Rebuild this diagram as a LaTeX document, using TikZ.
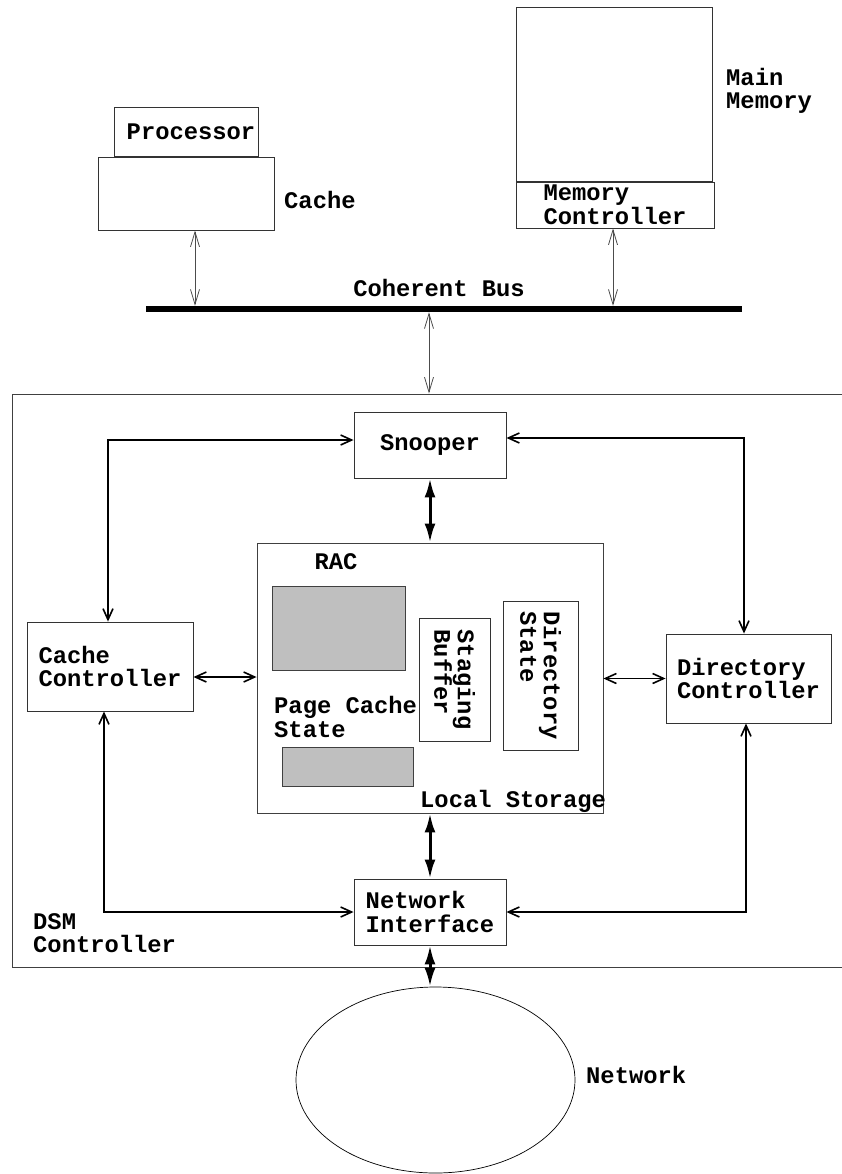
\documentclass[tikz,border=0pt]{standalone}
\usepackage{fontspec}
\newfontfamily\monofam{Liberation Mono}
\usetikzlibrary{positioning,arrows.meta,shapes.geometric}
\newcommand\dsmfont{\monofam\bfseries\fontsize{23.8}{23.5}\selectfont}

\begin{document}
\begin{tikzpicture}[x=1pt,y=-1pt]
  \useasboundingbox (0,0) rectangle (841,1174);

  \tikzstyle{unit} = [
    % The shape:
    rectangle, inner sep=0pt,
    % The border:
    draw=black!80, line width=0.9pt,
    % Font:
    font=\dsmfont, align=left
  ];
  \tikzstyle{filledBlock} = [
    rectangle, inner sep=0pt,
    draw=black!75, line width=0.9pt,
    fill=black!25
  ];
  \tikzstyle{annotation} = [
    % Just text!
    font=\dsmfont, align=left, inner sep=0pt
  ];
  \tikzstyle{busLink} = [
    draw=black!70, line width=0.8pt,
    {Straight Barb[length=15pt,width=9pt]}-{Straight Barb[length=15pt,width=9pt]}
  ];
  \tikzstyle{ctrlLink} = [
    draw=black, line width=1.6pt,
    {Straight Barb[length=11pt,width=10pt]}-{Straight Barb[length=11pt,width=10pt]}
  ];
  \tikzstyle{dataLink} = [
    draw=black, line width=3pt,
    {Latex[length=19pt,width=11pt]}-{Latex[length=19pt,width=11pt]}
  ];

  % node on the bus
  \node [unit, minimum width=144pt, minimum height=49pt] (processor) at (186,131.5) {\hspace*{10pt}Processor};
  \node [unit, minimum width=176pt, minimum height=73pt] (cache) at (186,193.5) {};
  \node [annotation, anchor=west] (cacheLabel) at (284,200) {Cache};

  \node [unit, minimum width=196pt, minimum height=174pt] (mainMemory) at (614,94) {};
  \node [unit, minimum width=198pt, minimum height=46pt] (memController) at (615,205) {Memory\\Controller};
  \node [annotation, anchor=west] (memLabel) at (726,91) {Main\\Memory};

  \node [fill=black, inner sep=0pt, minimum width=596pt, minimum height=6pt] (bus) at (444,309) {};
  \node [annotation] (busLabel) at (439,288) {Coherent Bus};

  % DSM controller
  \node [unit, draw=black!75, minimum width=850pt, minimum height=573pt] (dsm) at (437,680.5) {};
  \node [annotation, anchor=west] (dsmLabel) at (33,933) {DSM\\Controller};

  \node [unit, minimum width=152pt, minimum height=66pt] (snooper) at (430,445) {Snooper};

  \node [unit, draw=black!75, minimum width=346pt, minimum height=270pt] (localStorage) at (430,678) {};
  \node [annotation] (racLabel) at (336,562) {RAC};
  \node [filledBlock, minimum width=133pt, minimum height=84pt] (racData) at (338.5,628) {};
  \node [annotation, anchor=west] (pageLabel) at (274,717) {Page Cache\\State};
  \node [filledBlock, minimum width=131pt, minimum height=39pt] (pageState) at (347.5,766.5) {};
  \node [unit, rotate=-90, minimum width=123pt, minimum height=71pt] (stagingBuffer) at (454.5,679.5) {Staging\\Buffer};
  \node [unit, rotate=-90, minimum width=149pt, minimum height=75pt] (dirState) at (540.5,675.5) {Directory\\State};
  \node [annotation, anchor=west] (storageLabel) at (420,801) {Local Storage};

  \node [unit, minimum width=166pt, minimum height=89pt] (cacheCtrl) at (110,666.5) {Cache\\Controller};
  \node [unit, minimum width=165pt, minimum height=89pt] (dirCtrl) at (748.5,678.5) {Directory\\Controller};
  \node [unit, minimum width=152pt, minimum height=66pt] (netIface) at (430,912) {Network\\Interface};

  \node [ellipse, draw, line width=0.7pt, inner sep=0pt, minimum width=279pt, minimum height=186pt] (network) at (435.5,1080) {};
  \node [annotation, anchor=west] (netLabel) at (586,1075) {Network};

  % bus connections
  \path [busLink] ([xshift=9pt]cache.south) to ([xshift=9pt]cache.south |- bus.north);
  \path [busLink] ([xshift=-2pt]memController.south) to ([xshift=-2pt]memController.south |- bus.north);
  \path [busLink] ([xshift=-15pt]bus.south) to ([xshift=-15pt]bus.south |- dsm.north);

  % control paths
  \path [ctrlLink] ([yshift=5pt]snooper.west) -| ([xshift=-2pt]cacheCtrl.north);
  \path [ctrlLink] ([yshift=7pt]snooper.east) -| ([xshift=-4.5pt]dirCtrl.north);
  \path [ctrlLink] ([xshift=-6pt]cacheCtrl.south) |- (netIface.west);
  \path [ctrlLink] ([xshift=-2.5pt]dirCtrl.south) |- (netIface.east);
  \path [ctrlLink] ([yshift=-10.5pt]cacheCtrl.east) to ([yshift=-10.5pt]cacheCtrl.east -| localStorage.west);
  \path [ctrlLink] (dirCtrl.west) to (dirCtrl.west -| localStorage.east);

  % data paths
  \path [dataLink] (snooper.south) to (localStorage.north);
  \path [dataLink] (localStorage.south) to (netIface.north);
  \path [dataLink] (netIface.south) to (netIface.south |- network.north);
\end{tikzpicture}
\end{document}
